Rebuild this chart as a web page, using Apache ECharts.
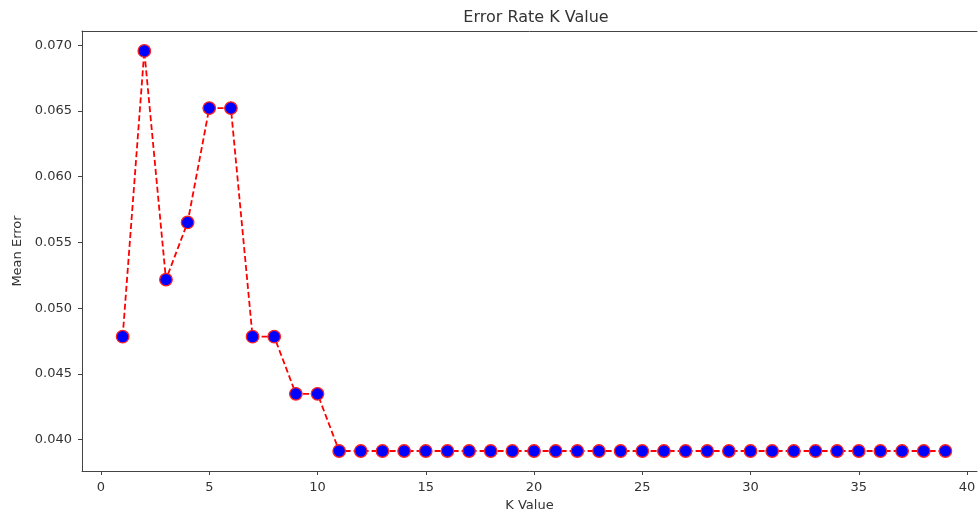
<!DOCTYPE html>
<html>
<head>
<meta charset="utf-8">
<script src="https://cdn.jsdelivr.net/npm/echarts@6/dist/echarts.min.js"></script>
<style>
html,body{margin:0;padding:0;background:#fff;}
#chart{width:978px;height:513px;}
</style>
</head>
<body>
<div id="chart"></div>
<script>
// K values (x) and mean error (y)
const kValues = [1,2,3,4,5,6,7,8,9,10,11,12,13,14,15,16,17,18,19,20,21,22,23,24,25,26,27,28,29,30,31,32,33,34,35,36,37,38,39];
const meanError = [0.04783,0.06957,0.05217,0.05652,0.06522,0.06522,0.04783,0.04783,0.04348,0.04348,
  0.03913,0.03913,0.03913,0.03913,0.03913,0.03913,0.03913,0.03913,0.03913,0.03913,
  0.03913,0.03913,0.03913,0.03913,0.03913,0.03913,0.03913,0.03913,0.03913,0.03913,
  0.03913,0.03913,0.03913,0.03913,0.03913,0.03913,0.03913,0.03913,0.03913];
const xTicks = [0,5,10,15,20,25,30,35,40];
const yTicks = [0.040,0.045,0.050,0.055,0.060,0.065,0.070];
const titleText = 'Error Rate K Value';
const xLabel = 'K Value';
const yLabel = 'Mean Error';

const FONT = '"DejaVu Sans", sans-serif';
const AX = '#444';
const TXT = '#333';

const chart = echarts.init(document.getElementById('chart'), null, {renderer:'canvas'});
chart.setOption({
  animation:false,
  backgroundColor:'#fff',
  title:{text:titleText,left:531,top:5,textAlign:'center',
    textStyle:{fontFamily:FONT,fontSize:16,fontWeight:'normal',color:TXT}},
  grid:{left:82,right:1,top:31,bottom:42,containLabel:false,outerBoundsMode:'none'},
  xAxis:[{
    type:'value',min:-0.878,max:40.46,position:'bottom',
    name:xLabel,nameLocation:'middle',nameGap:27,
    nameTextStyle:{fontFamily:FONT,fontSize:13,color:TXT},
    axisLine:{show:true,onZero:false,lineStyle:{color:AX,width:1}},
    axisTick:{show:true,inside:false,length:4,customValues:xTicks,lineStyle:{color:AX}},
    axisLabel:{show:true,customValues:xTicks,margin:10,fontFamily:FONT,fontSize:13,color:TXT,
      formatter:v=>String(v)},
    splitLine:{show:false}
  },{
    type:'value',min:-0.878,max:40.46,position:'top',
    axisLine:{show:true,onZero:false,lineStyle:{color:AX,width:1}},
    axisTick:{show:false},axisLabel:{show:false},splitLine:{show:false}
  }],
  yAxis:{
    type:'value',min:0.037609,max:0.071087,
    axisLine:{show:true,onZero:false,lineStyle:{color:AX,width:1}},
    axisTick:{show:true,inside:false,length:4,customValues:yTicks,lineStyle:{color:AX}},
    axisLabel:{show:true,customValues:yTicks,margin:10,fontFamily:FONT,fontSize:13,color:TXT,
      formatter:v=>v.toFixed(3)},
    splitLine:{show:false}
  },
  graphic:[{
    type:'text',x:18,y:251,rotation:Math.PI/2,
    style:{text:yLabel,fontFamily:FONT,fontSize:13,fill:TXT,align:'center',verticalAlign:'middle'}
  }],
  series:[{
    type:'line',
    data:kValues.map((k,i)=>[k,meanError[i]]),
    lineStyle:{color:'#ff0000',width:1.8,type:[6,3]},
    symbol:'circle',symbolSize:12.5,showAllSymbol:true,
    itemStyle:{color:'#0000ff',borderColor:'#ff2020',borderWidth:1.3},
    emphasis:{disabled:true}
  }]
});
</script>
</body>
</html>
